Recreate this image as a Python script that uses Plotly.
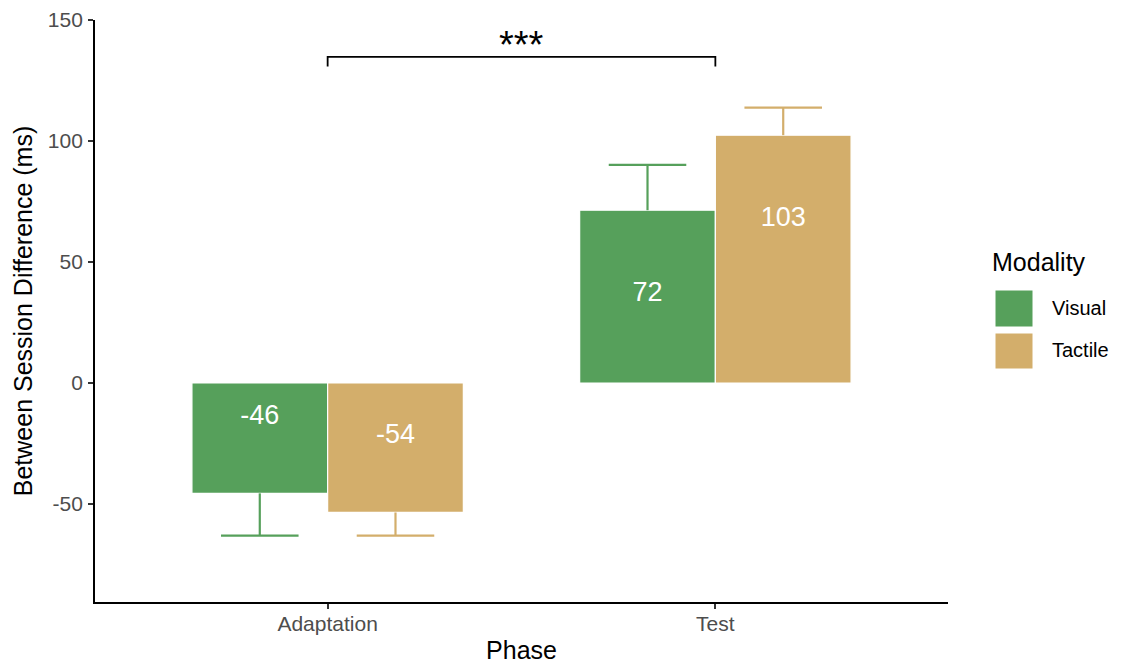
import plotly.graph_objects as go

# ---- data ----
phases = ["Adaptation", "Test"]
modalities = ["Visual", "Tactile"]
visual_means = [-45.6, 71.4]
tactile_means = [-53.5, 102.4]
visual_err = [17.5, 18.7]
tactile_err = [9.6, 11.4]
visual_labels = ["-46", "72"]
tactile_labels = ["-54", "103"]
y_ticks = [-50, 0, 50, 100, 150]
y_ticktext = ["-50", "0", "50", "100", "150"]
signif_text = "***"
bracket_y = 134.8
bracket_drop = 4.0

# ---- style ----
colors = {"Visual": "#56A05B", "Tactile": "#D3AE6B"}
FONT = "Liberation Sans, Arial, Helvetica, sans-serif"
BAR_W = 0.35
CAP_HALF = 0.1
LABEL_INSET = 33
LABEL_NUDGE = 1.7

series = [
    ("Visual", visual_means, visual_err, visual_labels, -BAR_W / 2),
    ("Tactile", tactile_means, tactile_err, tactile_labels, BAR_W / 2),
]

fig = go.Figure()
for name, means, errs, labels, off in series:
    xs = [i + off for i in range(len(phases))]
    fig.add_trace(go.Bar(
        x=xs, y=means, width=BAR_W, name=name,
        marker=dict(color=colors[name], line=dict(color="white", width=1.2)),
        showlegend=False, hoverinfo="skip",
    ))
    # error bars (away from zero only)
    ex, ey = [], []
    for x, m, e in zip(xs, means, errs):
        end = m + e if m >= 0 else m - e
        ex += [x, x, None, x - CAP_HALF, x + CAP_HALF, None]
        ey += [m, end, None, end, end, None]
    fig.add_trace(go.Scatter(
        x=ex, y=ey, mode="lines", line=dict(color=colors[name], width=2.2),
        showlegend=False, hoverinfo="skip",
    ))
    # value labels
    ly = [(m - LABEL_INSET if m >= 0 else m + LABEL_INSET) - LABEL_NUDGE for m in means]
    fig.add_trace(go.Scatter(
        x=xs, y=ly, mode="text", text=labels,
        textfont=dict(color="white", size=27, family=FONT),
        showlegend=False, hoverinfo="skip",
    ))

# significance bracket
fig.add_trace(go.Scatter(
    x=[0, 0, 1, 1],
    y=[bracket_y - bracket_drop, bracket_y, bracket_y, bracket_y - bracket_drop],
    mode="lines", line=dict(color="black", width=1.8),
    showlegend=False, hoverinfo="skip",
))
fig.add_annotation(
    x=0.5, y=bracket_y, text=signif_text, showarrow=False,
    xref="x", yref="y", yanchor="bottom", yshift=-11,
    font=dict(size=38, color="black", family=FONT),
)

# manual legend
L, R, T, B = 95, 948, 20, 602
def px_x(p):
    return (p - L) / (R - L)
def px_y(p):
    return (B - p) / (B - T)

fig.add_annotation(
    x=px_x(990), y=px_y(262), xref="paper", yref="paper", text="Modality",
    showarrow=False, xanchor="left", yanchor="middle",
    font=dict(size=25, color="black", family=FONT),
)
key_rows = [(290, 327, 308), (333, 369, 350)]
for name, (top, bot, mid) in zip(modalities, key_rows):
    fig.add_shape(
        type="rect", xref="paper", yref="paper",
        x0=px_x(995), x1=px_x(1033), y0=px_y(bot), y1=px_y(top),
        fillcolor=colors[name], line=dict(color="white", width=1),
    )
    fig.add_annotation(
        x=px_x(1050), y=px_y(mid), xref="paper", yref="paper", text=name,
        showarrow=False, xanchor="left", yanchor="middle",
        font=dict(size=20, color="black", family=FONT),
    )

fig.update_layout(
    width=1122, height=664,
    margin=dict(l=L, r=1122 - R, t=T, b=664 - B),
    paper_bgcolor="white", plot_bgcolor="white",
    font=dict(family=FONT),
    showlegend=False,
    xaxis=dict(
        range=[-0.6, 1.6], tickvals=list(range(len(phases))), ticktext=phases,
        showgrid=False, zeroline=False, automargin=False,
        showline=True, linecolor="black", linewidth=1.8,
        ticks="outside", ticklen=5, tickwidth=1.5, tickcolor="#333333",
        ticklabelstandoff=-3,
        tickfont=dict(size=21, color="#4D4D4D", family=FONT),
        title=dict(text="Phase", font=dict(size=25, color="black", family=FONT), standoff=11),
    ),
    yaxis=dict(
        range=[-90.5, 150], tickvals=y_ticks, ticktext=y_ticktext,
        showgrid=False, zeroline=False, automargin=False,
        showline=True, linecolor="black", linewidth=1.8,
        ticks="outside", ticklen=5, tickwidth=1.5, tickcolor="#333333",
        ticklabelstandoff=1,
        tickfont=dict(size=21, color="#4D4D4D", family=FONT),
        title=dict(text="Between Session Difference (ms)", font=dict(size=25, color="black", family=FONT), standoff=8),
    ),
)

fig.write_html("out.html")
